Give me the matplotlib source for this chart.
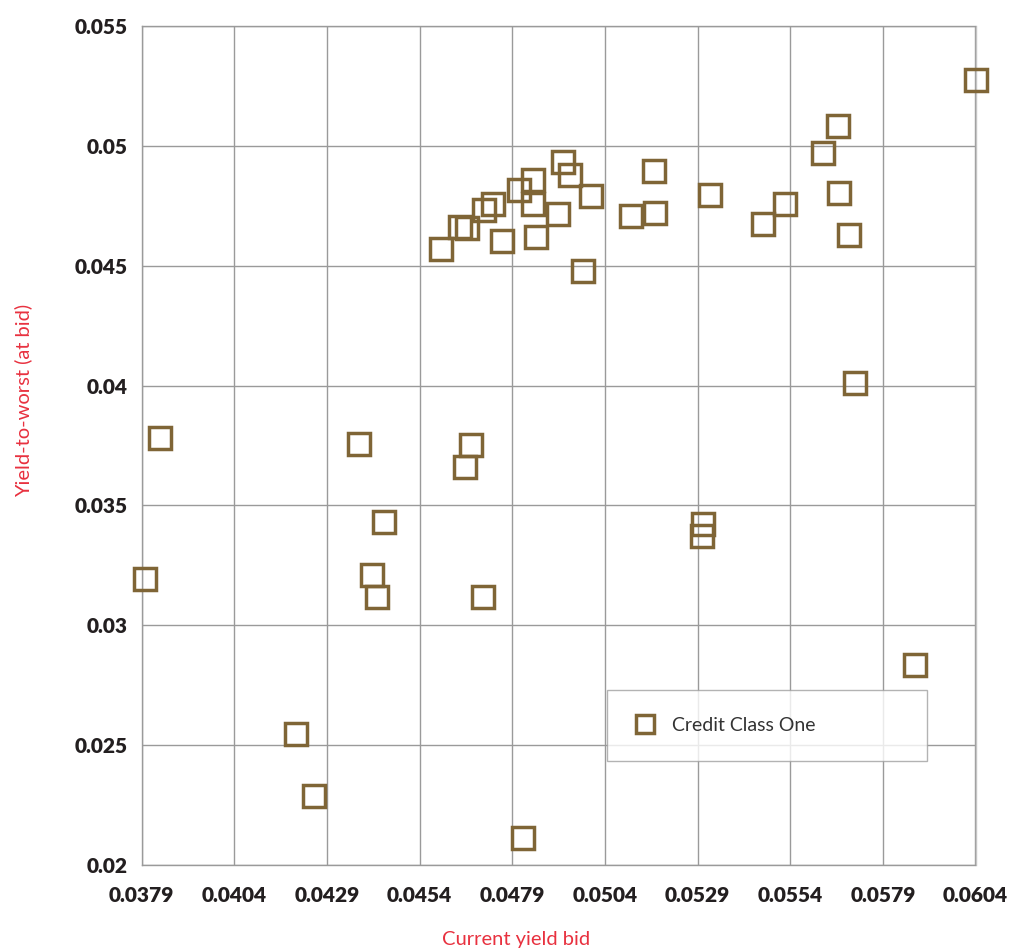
import matplotlib.pyplot as plt
import numpy as np

# values
current_yield = [0.06041, 0.05669, 0.05629, 0.05672, 0.05699, 0.05526, 0.05467, 0.05324,
                 0.05175, 0.05173, 0.05111, 0.05003, 0.04981, 0.04946, 0.04927, 0.04914,
                 0.04854, 0.04846, 0.04846, 0.04808, 0.04763, 0.04738, 0.04714, 0.04668,
                 0.04649, 0.04598, 0.05715, 0.05877, 0.03840, 0.03799, 0.04377, 0.04444,
                 0.04412, 0.04425, 0.04679, 0.04663, 0.05305, 0.05302, 0.04711, 0.04207,
                 0.04255, 0.04819]
yield_to_worst = [0.05274, 0.05082, 0.04969, 0.04802, 0.04627, 0.04756, 0.04673, 0.04794,
                  0.04719, 0.04894, 0.04706, 0.04790, 0.04477, 0.04877, 0.04932, 0.04715,
                  0.04619, 0.04756, 0.04856, 0.04815, 0.04602, 0.04756, 0.04731, 0.04656,
                  0.04660, 0.04569, 0.04010, 0.02834, 0.03781, 0.03193, 0.03756, 0.03430,
                  0.03209, 0.03118, 0.03751, 0.03660, 0.03422, 0.03372, 0.03118, 0.02546,
                  0.02288, 0.02113]

x_ticks = [0.0379, 0.0404, 0.0429, 0.0454, 0.0479, 0.0504, 0.0529, 0.0554, 0.0579, 0.0604]
x_tick_labels = ["0.0379", "0.0404", "0.0429", "0.0454", "0.0479",
                 "0.0504", "0.0529", "0.0554", "0.0579", "0.0604"]
y_ticks = [0.02, 0.025, 0.03, 0.035, 0.04, 0.045, 0.05, 0.055]
y_tick_labels = ["0.02", "0.025", "0.03", "0.035", "0.04", "0.045", "0.05", "0.055"]

brown = "#7f6536"
grid_gray = "#9a9a9a"
red = "#e8313f"

plt.rcParams['font.family'] = ['Lato', 'DejaVu Sans']

fig = plt.figure(figsize=(10.22, 9.5), dpi=100)
ax = fig.add_axes([141.5 / 1022, 1 - 865 / 950, 834 / 1022, 839 / 950])

ax.plot(current_yield, yield_to_worst, linestyle="none", marker="s", markersize=15.5,
        markerfacecolor="none", markeredgecolor=brown, markeredgewidth=2.5,
        label="Credit Class One", clip_on=False, zorder=3)

ax.set_xlim(0.0379, 0.0604)
ax.set_ylim(0.02, 0.055)
ax.set_xticks(x_ticks)
ax.set_xticklabels(x_tick_labels)
ax.set_yticks(y_ticks)
ax.set_yticklabels(y_tick_labels)
ax.tick_params(length=0, labelsize=15, labelcolor="#231f20")
ax.tick_params(axis="x", pad=15)
ax.tick_params(axis="y", pad=10)
for lbl in ax.get_xticklabels() + ax.get_yticklabels():
    lbl.set_fontweight("heavy")

ax.grid(True, color=grid_gray, linewidth=1)
ax.set_axisbelow(True)
for s in ax.spines.values():
    s.set_color(grid_gray)
    s.set_linewidth(1)
ax.spines["right"].set_color("#c4c4c4")

fig.text(516 / 1022, 1 - 940 / 950, "Current yield bid", color=red, fontsize=14.5,
         ha="center", va="center")
fig.text(23 / 1022, 1 - 400 / 950, "Yield-to-worst (at bid)", color=red, fontsize=14.5,
         rotation=90, ha="center", va="center")

leg = ax.legend(loc="upper left", bbox_to_anchor=(607 / 1022, 1 - 761 / 950, 320 / 1022, 71 / 950),
                bbox_transform=fig.transFigure, mode="expand", borderaxespad=0,
                fontsize=14, frameon=True, fancybox=False, borderpad=1.4,
                handlelength=1.1, handletextpad=0.84, markerscale=0.85, labelcolor="#333333")
leg.get_frame().set_edgecolor("#a0a0a0")
leg.get_frame().set_linewidth(1)

fig.savefig("out.png", dpi=100)
